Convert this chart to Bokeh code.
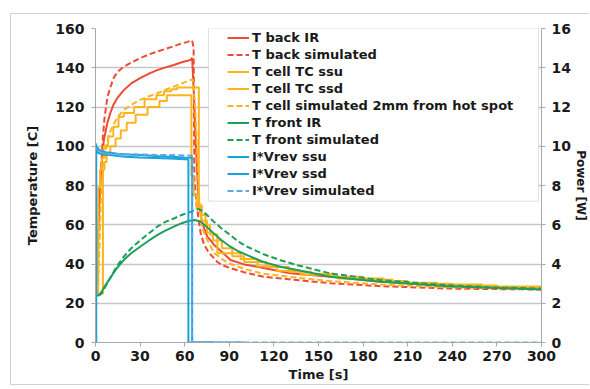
from bokeh.plotting import figure
from bokeh.models import (Range1d, LinearAxis, FixedTicker, Legend, LegendItem,
                          BoxAnnotation)
from bokeh.embed import file_html
from bokeh.resources import INLINE

# ---------------- data ----------------
t_back_ir = [0, 1.2, 2.2, 3.4, 4.5, 5.6, 7.9, 10, 12, 14.6, 19, 24, 30.3, 36, 41.5, 47,
             52.7, 58, 62, 64, 65, 66.3, 67.4, 68.5, 69.5, 71.8, 75.2, 77.4, 80, 86,
             90.8, 100, 109, 113, 131, 158, 191.8, 236.6, 270, 300]
T_back_ir = [25, 40, 64, 83, 94.6, 103, 111.7, 117, 121, 124.5, 128.6, 132, 134.8, 137,
             138.8, 140.2, 141.4, 142.8, 143.6, 144, 145, 125, 103, 85, 71, 60.8, 53.9,
             52, 49.5, 45.5, 42, 39.8, 38.6, 38, 35.3, 33.5, 31, 29.2, 28.4, 28]

t_back_sim = [1, 2, 3, 4, 5, 6, 8, 10, 12.3, 15, 19, 25, 30.3, 36, 41.5, 47, 52.7, 58,
              62, 65, 66, 66.5, 68, 70.7, 73, 76, 79.6, 82, 85, 90.8, 100, 113, 135.7,
              158, 191.8, 236.6, 270, 300]
T_back_sim = [25, 45, 75, 92, 105, 114, 125, 130, 135, 138, 140.5, 143, 145, 146.8,
              148.2, 149.6, 151, 152.4, 153.2, 154, 150, 84, 70, 55.7, 50, 46, 43, 41,
              39.5, 37.9, 35.8, 33.5, 31.8, 30.2, 28.7, 27.5, 27.2, 27]

t_cell_ssu = [0, 1.8, 3.0, 4.2, 5.5, 8.5, 12, 15.5, 19, 26, 33, 41, 46, 51, 55, 69.5,
              71.5, 74, 77, 82, 97.5, 109, 122, 138, 161, 163, 194, 210, 240, 270, 300]
T_cell_ssu = [25, 79, 88, 94, 100, 105, 110, 115, 117, 120, 124, 126, 128, 129, 130, 70,
              65, 60, 55, 45.5, 42.5, 38.8, 36.5, 34.5, 34, 32.6, 31.3, 30, 29, 28, 27.5]

t_cell_ssd = [0, 5.0, 6, 7.5, 10, 13.5, 17, 21, 27, 35, 43, 48, 64.5, 66, 68, 71, 75,
              79, 85, 92, 100, 115, 130, 145, 160, 180, 200, 230, 260, 300]
T_cell_ssd = [25, 88, 92, 96, 100, 104, 108, 112, 116, 120, 123, 126, 85, 75, 68, 62,
              56, 52, 48, 44, 41, 38.5, 36, 35, 33.5, 32, 30.5, 29.5, 28.5, 27.5]

t_cell_sim = [1.5, 2.5, 3.5, 4.5, 5.6, 7, 9, 12, 15, 19, 25, 30, 36, 41.5, 47, 52.7,
              58, 64, 65.5, 67, 68.5, 70, 72, 76, 80, 86, 91, 100, 113, 136, 158, 192,
              237, 270, 300]
T_cell_sim = [25, 45, 70, 84, 91, 99, 106, 111, 115, 118.5, 121.5, 123.6, 125.5, 127,
              128.8, 130.4, 132, 133.8, 134, 120, 95, 70, 58, 51, 45.5, 42, 40, 37.5,
              35, 33, 31.3, 29.5, 28.2, 27.6, 27.2]

t_front_ir = [0, 1, 2, 3.4, 5, 7, 10, 14, 19, 24, 30, 36, 41.5, 47, 52.7, 58, 62, 65,
              67, 70.7, 74, 79.6, 85, 90.8, 96, 102, 113, 125, 135.7, 158, 191.8, 236.6,
              270, 300]
T_front_ir = [25, 24, 24, 25, 27, 29.5, 33, 37.5, 42, 45.5, 48.8, 52, 54.7, 57, 59, 60.8,
              61.8, 62.3, 62.4, 61.5, 59.5, 55.6, 52, 48.8, 46.5, 44.5, 41, 38.5, 36.9,
              33.5, 31, 28.7, 27.8, 27]

t_front_sim = [2, 3.5, 5, 7, 10, 14, 19, 24, 30, 36, 41.5, 47, 52.7, 58, 64, 67, 69.5,
               72, 75, 79.6, 85, 90.8, 96, 102, 113, 125, 135.7, 158, 191.8, 236.6, 270,
               300]
T_front_sim = [24, 24.5, 26, 29, 33, 38.5, 43.7, 48, 52, 55.7, 59, 61.5, 63.2, 65, 66.6,
               67.6, 68, 67, 65, 61.5, 58, 54.7, 51.5, 48.8, 45, 41.8, 39.4, 35.2, 31.8,
               29.2, 28, 27.5]

t_pow_ssu = [0, 0, 1, 2, 4, 7, 10, 15, 20, 30, 40, 50, 60, 65, 65, 100]
P_pow_ssu = [0, 10.15, 9.95, 9.85, 9.75, 9.7, 9.67, 9.62, 9.58, 9.55, 9.5, 9.47, 9.43,
             9.42, 0, 0]

t_pow_ssd = [0.5, 0.5, 1, 2, 4, 7, 10, 15, 20, 30, 40, 50, 60, 62.5, 62.5, 80]
P_pow_ssd = [0, 9.85, 9.75, 9.65, 9.6, 9.57, 9.55, 9.5, 9.47, 9.43, 9.4, 9.37, 9.34,
             9.33, 0, 0]

t_pow_sim = [2, 3, 5, 10, 20, 30, 40, 50, 60, 65, 65, 300]
P_pow_sim = [9.8, 9.7, 9.65, 9.6, 9.6, 9.58, 9.56, 9.55, 9.53, 9.52, 0, 0]

labels = ["T back IR", "T back simulated", "T cell TC ssu", "T cell TC ssd",
          "T cell simulated 2mm from hot spot", "T front IR", "T front simulated",
          "I*Vrev ssu", "I*Vrev ssd", "I*Vrev simulated"]

x_ticks = list(range(0, 301, 30))
temp_ticks = list(range(0, 161, 20))
power_ticks = list(range(0, 17, 2))

# ---------------- figure ----------------
RED = "#EF4A34"
ORANGE = "#FBB41C"
GREEN = "#1E9F5A"
BLUE = "#1AA2DD"
LBLUE = "#5DA9DE"
FONT = "DejaVu Sans"

p = figure(width=579, height=372, x_range=Range1d(0, 300), y_range=Range1d(0, 160),
           output_backend="svg", toolbar_location=None,
           min_border_left=84, min_border_right=49, min_border_top=14,
           min_border_bottom=44)
p.margin = (13, 0, 0, 10)
p.styles = {"border-left": "1px solid #d2d2d2", "border-top": "1px solid #d2d2d2",
            "border-bottom": "1px solid #d2d2d2"}
p.outline_line_color = None
p.background_fill_color = "white"
p.border_fill_color = "white"

p.extra_y_ranges = {"power": Range1d(0, 16)}
right = LinearAxis(y_range_name="power", axis_label="Power [W]")
p.add_layout(right, "right")

p.xaxis.ticker = FixedTicker(ticks=x_ticks)
p.yaxis[0].ticker = FixedTicker(ticks=temp_ticks)
right.ticker = FixedTicker(ticks=power_ticks)
p.xaxis.axis_label = "Time [s]"
p.yaxis[0].axis_label = "Temperature [C]"

for ax in [p.xaxis[0], p.yaxis[0], right]:
    ax.axis_line_color = "#a8a8a8"
    ax.major_tick_line_color = "#a8a8a8"
    ax.major_tick_out = 4
    ax.major_tick_in = 0
    ax.minor_tick_line_color = None
    ax.major_label_text_font = FONT
    ax.major_label_text_font_style = "bold"
    ax.major_label_text_font_size = "14px"
    ax.major_label_text_color = "#1a1a1a"
    ax.axis_label_text_font = FONT
    ax.axis_label_text_font_style = "bold"
    ax.axis_label_text_font_size = "13px"
    ax.axis_label_text_color = "#1a1a1a"

p.xaxis[0].major_label_standoff = 4
p.xaxis[0].axis_label_standoff = 3
p.yaxis[0].major_label_standoff = 7
p.yaxis[0].axis_label_standoff = 12
right.major_label_standoff = 6
right.axis_label_standoff = 0
right.axis_label_text_font_size = "12px"

p.xgrid.visible = False
p.ygrid.grid_line_color = "#c6c6c6"
p.ygrid.grid_line_width = 1.5

LW = 2
DASH = "6 3"
r1 = p.line(t_back_ir, T_back_ir, color=RED, line_width=LW)
r2 = p.line(t_back_sim, T_back_sim, color=RED, line_width=LW, line_dash=DASH)
r3 = p.step(t_cell_ssu, T_cell_ssu, mode="after", color=ORANGE, line_width=LW)
r4 = p.step(t_cell_ssd, T_cell_ssd, mode="after", color=ORANGE, line_width=LW)
r5 = p.line(t_cell_sim, T_cell_sim, color=ORANGE, line_width=LW, line_dash=DASH)
r6 = p.line(t_front_ir, T_front_ir, color=GREEN, line_width=LW)
r7 = p.line(t_front_sim, T_front_sim, color=GREEN, line_width=LW, line_dash=DASH)
r8 = p.line(t_pow_ssu, P_pow_ssu, color=BLUE, line_width=LW, y_range_name="power")
r9 = p.line(t_pow_ssd, P_pow_ssd, color=BLUE, line_width=LW, y_range_name="power")
r10 = p.line(t_pow_sim, P_pow_sim, color=LBLUE, line_width=LW, line_dash=DASH,
             y_range_name="power")

box = BoxAnnotation(left=76, right=298, bottom=72, top=160, fill_color="white",
                    fill_alpha=1, line_color="#9c9c9c", line_width=1)
p.add_layout(box)

items = [LegendItem(label=lab, renderers=[r]) for lab, r in
         zip(labels, [r1, r2, r3, r4, r5, r6, r7, r8, r9, r10])]
legend = Legend(items=items, location=(131, 143), glyph_width=22, glyph_height=15,
                label_height=15, spacing=2, padding=1, label_standoff=3,
                label_text_font=FONT, label_text_font_style="bold",
                label_text_font_size="13px", label_text_color="#1a1a1a",
                border_line_alpha=0, background_fill_alpha=0, margin=0)
p.add_layout(legend)

open("out.html", "w").write(file_html(p, INLINE))
